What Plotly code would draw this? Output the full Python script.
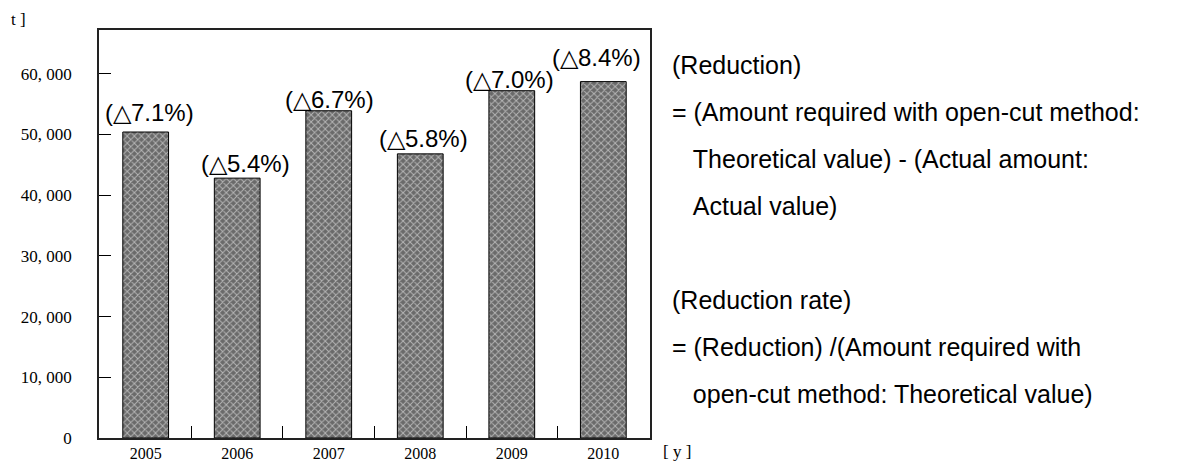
import plotly.graph_objects as go

years = ["2005", "2006", "2007", "2008", "2009", "2010"]
reduction = [50400, 42800, 53900, 46800, 57200, 58700]
rate_labels = ["(△7.1%)", "(△5.4%)", "(△6.7%)", "(△5.8%)", "(△7.0%)", "(△8.4%)"]
label_xshift = [4, 8, 1, 3, -2, -7]
label_yshift = [20, 15, 11, 15, 11, 24]
y_ticks = [0, 10000, 20000, 30000, 40000, 50000, 60000]
y_tick_text = ["0", "10, 000", "20, 000", "30, 000", "40, 000", "50, 000", "60, 000"]

notes = [
    "(Reduction)",
    "= (Amount required with open-cut method:",
    "   Theoretical value) - (Actual amount:",
    "   Actual value)",
    "",
    "(Reduction rate)",
    "= (Reduction) /(Amount required with",
    "   open-cut method: Theoretical value)",
]
note_y_px = [65, 112, 159, 206, 253, 300, 347, 394]

W, H = 1179, 463
ML, MR, MT, MB = 99, 529, 30, 25
PW, PH = W - ML - MR, H - MT - MB

fig = go.Figure()
fig.add_trace(go.Bar(
    x=years, y=reduction, width=0.5,
    marker=dict(
        color="#6a6a6a",
        line=dict(color="black", width=1),
        pattern=dict(shape="x", fgcolor="white", bgcolor="#6a6a6a", size=5, solidity=0.35),
    ),
    hoverinfo="skip",
))

for i, (v, t, dx, dy) in enumerate(zip(reduction, rate_labels, label_xshift, label_yshift)):
    fig.add_annotation(x=i, y=v, text=t, showarrow=False, yanchor="middle",
                       yshift=dy, xshift=dx,
                       font=dict(family="Liberation Sans, Arial", size=24, color="black"))

# explanatory text on the right
for line, ypx in zip(notes, note_y_px):
    if not line:
        continue
    txt = line.replace("   ", "\u00a0\u00a0\u00a0")
    fig.add_annotation(xref="paper", yref="paper",
                       x=(670 - ML) / PW, y=1 - (ypx - MT) / PH,
                       text=txt, showarrow=False, xanchor="left", yanchor="middle",
                       font=dict(family="Liberation Sans, Arial", size=25, color="black"))

# unit labels
fig.add_annotation(xref="paper", yref="paper",
                   x=(9 - ML) / PW, y=1 - (19 - MT) / PH,
                   text="t\u00a0]", showarrow=False, xanchor="left", yanchor="middle",
                   font=dict(family="Liberation Serif, DejaVu Serif", size=17, color="black"))
fig.add_annotation(xref="paper", yref="paper",
                   x=(661 - ML) / PW, y=1 - (451 - MT) / PH,
                   text="[\u00a0y\u00a0]", showarrow=False, xanchor="left", yanchor="middle",
                   font=dict(family="Liberation Serif, DejaVu Serif", size=17, color="black"))

fig.update_layout(
    width=W, height=H, autosize=False,
    margin=dict(l=ML, r=MR, t=MT, b=MB, pad=0),
    paper_bgcolor="white", plot_bgcolor="white",
    showlegend=False,
    bargap=0.5,
    font=dict(family="Liberation Serif, DejaVu Serif", size=17, color="black"),
)
fig.update_xaxes(
    type="category", range=[-0.51, 5.51], automargin=False,
    showline=True, linecolor="#222", linewidth=1.5, mirror=True,
    ticks="inside", tickson="boundaries", ticklen=12, tickcolor="black", tickwidth=1,
    showgrid=False, ticklabelstandoff=0,
    tickfont=dict(family="Liberation Serif, DejaVu Serif", size=16),
)
fig.update_yaxes(
    range=[0, 67200], automargin=False,
    tickvals=y_ticks, ticktext=y_tick_text,
    showline=True, linecolor="#222", linewidth=1.5, mirror=True,
    ticks="inside", ticklen=12, tickcolor="black", tickwidth=1,
    showgrid=False, zeroline=False,
    ticklabelstandoff=22,
    tickfont=dict(family="Liberation Serif, DejaVu Serif", size=17),
)

fig.write_html("out.html", config={"displayModeBar": False},
               post_script="document.body.style.margin='0';")
